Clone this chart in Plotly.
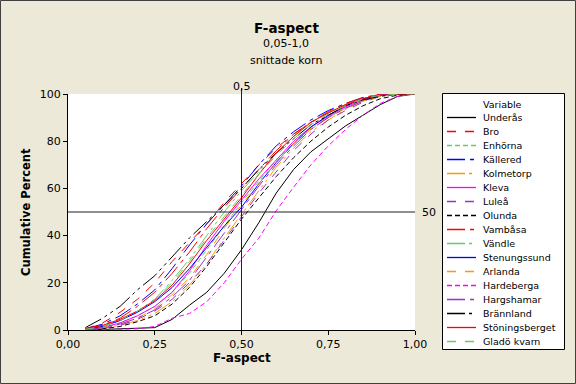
import plotly.graph_objects as go

# ---------------- data ----------------
f_aspect = [0.05, 0.10, 0.15, 0.20, 0.25, 0.30, 0.35, 0.40, 0.45, 0.50,
            0.55, 0.60, 0.65, 0.70, 0.75, 0.80, 0.85, 0.90, 0.95, 1.00]

underas = [0, 0.2, 0.3, 0.5, 1, 4.5, 10.5, 16, 24, 34, 45.5, 58, 68, 75.5, 81, 86.5, 91, 95.5, 99, 100]
bro = [0.5, 3, 7.5, 13, 20, 29, 37, 45, 54, 62, 70, 77, 83, 88, 92, 95.5, 98, 99.5, 100, 100]
enhorna = [0.2, 1, 3, 6, 10, 16, 24, 34, 44, 54, 63, 72, 79, 85, 90, 94, 97, 99, 100, 100]
kallered = [0.5, 2.5, 6, 11, 17, 26, 36, 45, 53, 61, 70, 78, 84, 89, 93, 96, 98.5, 99.5, 100, 100]
kolmetorp = [0.2, 0.8, 2, 4, 7, 12, 19, 28, 39, 49, 59, 69, 77, 84, 89, 93.5, 97, 99, 100, 100]
kleva = [0.2, 1, 3, 6, 10, 16, 25, 36, 46, 55, 64, 72, 80, 86, 90.5, 94.5, 97.5, 99.5, 100, 100]
lulea = [0.2, 0.8, 2, 4.5, 8, 13, 20, 28, 38, 48, 58, 67, 76, 83, 89, 93, 96.5, 99, 100, 100]
olunda = [0.1, 0.5, 1.5, 3.5, 6, 11, 18, 27, 37, 47, 56, 65, 73, 80, 86, 91, 95, 98, 99.5, 100]
vambasa = [0.5, 2, 5, 10, 16, 24, 33, 43, 52, 60, 68, 76, 83, 88, 92.5, 96, 98.5, 100, 100, 100]
vandle = [0.3, 1.5, 4, 8, 13, 21, 30, 40, 50, 59, 67, 75, 82, 88, 92, 95.5, 98, 99.5, 100, 100]
stenungssund = [0.3, 1.5, 4, 7.5, 12, 18, 26, 35, 44, 52, 62, 71, 79, 86, 91, 95, 98, 99.5, 100, 100]
arlanda = [0.2, 1, 2.5, 5, 9, 15, 22, 32, 43, 53, 62, 71, 79, 85.5, 90, 94, 97, 99, 100, 100]
hardeberga = [0, 0.2, 0.3, 0.5, 1.5, 5, 7, 12, 20, 30, 39, 50.5, 60.5, 70, 78, 85, 91, 96, 99, 100]
hargshamar = [0.2, 1, 2.5, 5, 8.5, 14, 21, 31, 41, 51, 61, 70, 78, 85, 90, 94, 97, 99.5, 100, 100]
brannland = [1, 5, 10, 17, 23, 31, 39, 46, 53, 60, 68, 75, 81, 87, 91, 95, 97.5, 99, 100, 100]
stoningsberget = [0.5, 2, 4.5, 8, 12.5, 19, 28, 38, 47, 56, 66, 75, 82, 88, 92, 95.5, 98, 100, 100, 100]
glado_kvarn = [0.3, 1.5, 4, 8, 13, 20, 29, 39, 48, 57, 66, 74, 81, 87, 91.5, 95, 98, 99.5, 100, 100]

series_names = ["Underås", "Bro", "Enhörna", "Källered", "Kolmetorp", "Kleva", "Luleå",
                "Olunda", "Vambåsa", "Vändle", "Stenungssund", "Arlanda", "Hardeberga",
                "Hargshamar", "Brännland", "Stöningsberget", "Gladö kvarn"]
series_values = [underas, bro, enhorna, kallered, kolmetorp, kleva, lulea, olunda, vambasa,
                 vandle, stenungssund, arlanda, hardeberga, hargshamar, brannland,
                 stoningsberget, glado_kvarn]

x_tickvals = [0, 0.25, 0.5, 0.75, 1.0]
x_ticktext = ["0,00", "0,25", "0,50", "0,75", "1,00"]
y_tickvals = [0, 20, 40, 60, 80, 100]
ref_x = 0.5
ref_y = 50

# ---------------- styles ----------------
BLACK, RED, GREEN, BLUE = "#000000", "#FF0000", "#66CC66", "#0000FF"
ORANGE, MAGENTA, PURPLE = "#FF9900", "#FF00FF", "#9933CC"
LONG = "9px,9px"
SHORT = "5px,3px"
LDS = "18px,5px,4px,5px"
LDSS = "18px,4px,3px,4px,3px,4px"
colors = [BLACK, RED, GREEN, BLUE, ORANGE, MAGENTA, PURPLE, BLACK, RED, GREEN, BLUE,
          ORANGE, MAGENTA, PURPLE, BLACK, RED, GREEN]
dashes = ["solid", LONG, SHORT, LDS, LDSS, "solid", LONG, SHORT, LDS, LDSS, "solid",
          LONG, SHORT, LDS, LDSS, "solid", LONG]

W, H = 576, 384
L, R, T, B = 68, 415, 94, 330
FONT = "DejaVu Sans"


def X(px):
    return (px - L) / (R - L)


def Y(py):
    return (B - py) / (B - T)


fig = go.Figure()
for name, vals, c, d in zip(series_names, series_values, colors, dashes):
    fig.add_trace(go.Scatter(x=f_aspect, y=vals, mode="lines", name=name,
                             line=dict(color=c, width=1, dash=d), showlegend=False))

shapes = []
annotations = []

# reference lines
shapes.append(dict(type="line", xref="x", yref="paper", x0=ref_x, x1=ref_x, y0=0, y1=Y(88),
                   line=dict(color="#202020", width=1), layer="above"))
shapes.append(dict(type="line", xref="paper", yref="y", x0=0, x1=1, y0=ref_y, y1=ref_y,
                   line=dict(color="#202020", width=1), layer="above"))
annotations.append(dict(text="0,5", xref="x", yref="paper", x=ref_x, y=Y(86), showarrow=False,
                        xanchor="center", yanchor="middle", font=dict(family=FONT, size=11, color="black")))
annotations.append(dict(text=str(ref_y), xref="paper", yref="y", x=X(420), y=ref_y, showarrow=False,
                        xanchor="left", yanchor="middle", font=dict(family=FONT, size=11, color="black")))

# titles
annotations.append(dict(text="<b>F-aspect</b>", xref="paper", yref="paper", x=X(286), y=Y(28),
                        showarrow=False, xanchor="center", yanchor="middle",
                        font=dict(family=FONT, size=13.5, color="black")))
annotations.append(dict(text="0,05-1,0", xref="paper", yref="paper", x=X(286), y=Y(44),
                        showarrow=False, xanchor="center", yanchor="middle",
                        font=dict(family=FONT, size=11, color="black")))
annotations.append(dict(text="snittade korn", xref="paper", yref="paper", x=X(286), y=Y(61),
                        showarrow=False, xanchor="center", yanchor="middle",
                        font=dict(family=FONT, size=11, color="black")))
annotations.append(dict(text="<b>F-aspect</b>", xref="paper", yref="paper", x=X(242), y=Y(358),
                        showarrow=False, xanchor="center", yanchor="middle",
                        font=dict(family=FONT, size=12, color="black")))
annotations.append(dict(text="<b>Cumulative Percent</b>", xref="paper", yref="paper", x=X(26), y=Y(212),
                        showarrow=False, xanchor="center", yanchor="middle", textangle=-90,
                        font=dict(family=FONT, size=11.5, color="black")))

# legend (drawn)
shapes.append(dict(type="rect", xref="paper", yref="paper", x0=X(442.5), x1=X(564.5), y0=Y(349.5), y1=Y(93.5),
                   line=dict(color="black", width=1), fillcolor="white", layer="above"))
annotations.append(dict(text="Variable", xref="paper", yref="paper", x=X(481), y=Y(104),
                        showarrow=False, xanchor="left", yanchor="middle",
                        font=dict(family=FONT, size=9.5, color="black")))
for i, (name, c, d) in enumerate(zip(series_names, colors, dashes)):
    yy = 117.5 + 14.0 * i
    shapes.append(dict(type="line", xref="paper", yref="paper", x0=X(447), x1=X(476), y0=Y(yy), y1=Y(yy),
                       line=dict(color=c, width=1.3, dash=d), layer="above"))
    annotations.append(dict(text=name, xref="paper", yref="paper", x=X(481), y=Y(yy - 0.5),
                            showarrow=False, xanchor="left", yanchor="middle",
                            font=dict(family=FONT, size=9.5, color="black")))

# outer frame
shapes.append(dict(type="rect", xref="paper", yref="paper", x0=X(0.5), x1=X(W - 0.5), y0=Y(H - 0.5), y1=Y(0.5),
                   line=dict(color="#404040", width=1), fillcolor="rgba(0,0,0,0)", layer="above"))

fig.update_layout(
    width=W, height=H,
    margin=dict(l=L, r=W - R, t=T, b=H - B, pad=0),
    paper_bgcolor="#ECE9D8", plot_bgcolor="white",
    showlegend=False, hovermode=False,
    shapes=shapes, annotations=annotations,
    font=dict(family=FONT, size=11, color="black"),
)
fig.update_xaxes(range=[0, 1], tickvals=x_tickvals, ticktext=x_ticktext, showgrid=False, zeroline=False,
                 showline=True, linecolor="black", linewidth=1, ticks="outside", ticklen=4,
                 tickcolor="black", tickfont=dict(family=FONT, size=11, color="black"))
fig.update_yaxes(range=[0, 100], tickvals=y_tickvals, showgrid=False, zeroline=False,
                 showline=True, linecolor="black", linewidth=1, ticks="outside", ticklen=4,
                 tickcolor="black", tickfont=dict(family=FONT, size=11, color="black"))

fig.write_html("out.html", config={"displayModeBar": False},
               post_script="document.body.style.margin='0';document.body.style.padding='0';")
